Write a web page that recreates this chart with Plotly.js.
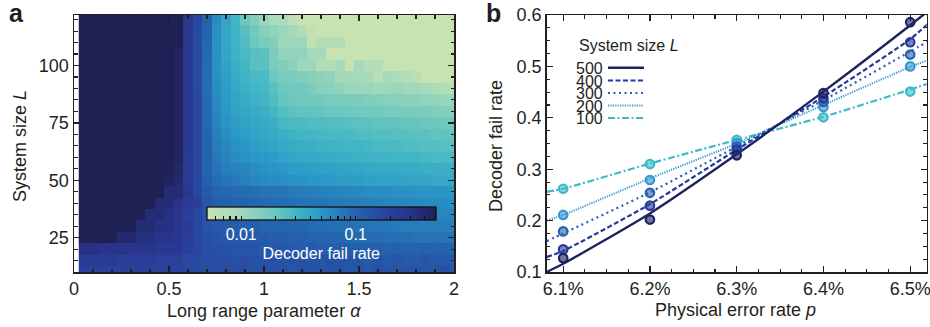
<!DOCTYPE html>
<html><head><meta charset="utf-8">
<script src="https://cdn.plot.ly/plotly-3.0.1.min.js"></script>
<style>html,body{margin:0;padding:0;background:#fff}#chart{width:930px;height:327px}</style>
</head><body><div id="chart"></div>
<script>
// ---------- panel a: heatmap ----------
const alphaValues = [0.05,0.1,0.15,0.2,0.25,0.3,0.35,0.4,0.45,0.5,0.55,0.6,0.65,0.7,0.75,0.8,0.85,0.9,0.95,1.0,
  1.05,1.1,1.15,1.2,1.25,1.3,1.35,1.4,1.45,1.5,1.55,1.6,1.65,1.7,1.75,1.8,1.85,1.9,1.95,2.0];
const systemSizes = [10,15,20,25,30,35,40,45,50,55,60,65,70,75,80,85,90,95,100,105,110,115,120];
// decoder fail rate, one row per system size (ascending), one column per alpha
const failRate = [
 [0.19,0.19,0.19,0.19,0.19,0.19,0.19,0.19,0.19,0.18,0.18,0.17,0.16,0.16,0.15,0.15,0.15,0.15,0.14,0.14,0.14,0.14,0.13,0.14,0.14,0.13,0.14,0.14,0.13,0.14,0.13,0.14,0.13,0.13,0.14,0.13,0.13,0.13,0.14,0.13],
 [0.23,0.23,0.23,0.23,0.21,0.21,0.21,0.21,0.19,0.19,0.19,0.16,0.16,0.15,0.15,0.15,0.14,0.15,0.14,0.14,0.14,0.13,0.14,0.14,0.13,0.13,0.14,0.13,0.13,0.13,0.12,0.13,0.12,0.13,0.12,0.12,0.13,0.12,0.12,0.12],
 [0.32,0.32,0.3,0.3,0.3,0.27,0.27,0.27,0.25,0.25,0.25,0.2,0.17,0.15,0.14,0.14,0.13,0.13,0.13,0.12,0.12,0.12,0.12,0.11,0.12,0.11,0.11,0.11,0.11,0.11,0.105,0.11,0.1,0.105,0.1,0.1,0.105,0.1,0.1,0.1],
 [0.5,0.5,0.5,0.5,0.38,0.38,0.33,0.33,0.28,0.28,0.25,0.2,0.17,0.14,0.13,0.125,0.12,0.12,0.12,0.115,0.11,0.11,0.105,0.105,0.1,0.1,0.095,0.095,0.09,0.09,0.09,0.088,0.085,0.085,0.085,0.082,0.08,0.082,0.08,0.08],
 [0.5,0.5,0.5,0.5,0.5,0.5,0.36,0.36,0.32,0.32,0.27,0.22,0.17,0.13,0.12,0.115,0.11,0.105,0.105,0.1,0.1,0.098,0.095,0.095,0.09,0.088,0.085,0.085,0.082,0.08,0.078,0.078,0.075,0.074,0.072,0.072,0.07,0.072,0.07,0.07],
 [0.5,0.5,0.5,0.5,0.5,0.5,0.5,0.36,0.36,0.32,0.26,0.2,0.17,0.13,0.115,0.11,0.105,0.1,0.098,0.095,0.092,0.09,0.088,0.085,0.082,0.08,0.078,0.076,0.075,0.072,0.07,0.07,0.068,0.068,0.066,0.065,0.065,0.064,0.064,0.063],
 [0.5,0.5,0.5,0.5,0.5,0.5,0.5,0.5,0.36,0.36,0.3,0.23,0.19,0.13,0.11,0.105,0.1,0.098,0.095,0.092,0.09,0.088,0.085,0.082,0.08,0.078,0.075,0.074,0.072,0.07,0.068,0.066,0.065,0.063,0.062,0.06,0.06,0.058,0.058,0.057],
 [0.5,0.5,0.5,0.5,0.5,0.5,0.5,0.5,0.5,0.36,0.36,0.26,0.17,0.12,0.1,0.095,0.09,0.088,0.085,0.082,0.08,0.078,0.074,0.072,0.07,0.067,0.065,0.064,0.062,0.06,0.058,0.056,0.056,0.055,0.054,0.053,0.052,0.052,0.051,0.05],
 [0.5,0.5,0.5,0.5,0.5,0.5,0.5,0.5,0.5,0.45,0.38,0.24,0.17,0.105,0.088,0.08,0.074,0.068,0.064,0.061,0.058,0.056,0.054,0.052,0.05,0.05,0.048,0.047,0.046,0.045,0.044,0.043,0.043,0.042,0.041,0.041,0.04,0.039,0.038,0.038],
 [0.5,0.5,0.5,0.5,0.5,0.5,0.5,0.5,0.5,0.5,0.42,0.24,0.17,0.1,0.08,0.072,0.066,0.062,0.058,0.055,0.052,0.05,0.047,0.046,0.045,0.044,0.043,0.042,0.041,0.04,0.039,0.038,0.038,0.037,0.036,0.036,0.035,0.035,0.034,0.034],
 [0.5,0.5,0.5,0.5,0.5,0.5,0.5,0.5,0.5,0.5,0.45,0.24,0.17,0.1,0.075,0.065,0.058,0.054,0.05,0.048,0.046,0.043,0.04,0.039,0.038,0.037,0.036,0.035,0.034,0.033,0.032,0.032,0.031,0.03,0.03,0.03,0.029,0.028,0.028,0.028],
 [0.5,0.5,0.5,0.5,0.5,0.5,0.5,0.5,0.5,0.5,0.45,0.25,0.17,0.1,0.072,0.062,0.055,0.05,0.046,0.044,0.041,0.038,0.036,0.035,0.034,0.033,0.032,0.031,0.03,0.03,0.029,0.028,0.028,0.027,0.026,0.026,0.025,0.025,0.024,0.024],
 [0.5,0.5,0.5,0.5,0.5,0.5,0.5,0.5,0.5,0.5,0.45,0.25,0.17,0.1,0.07,0.058,0.05,0.045,0.042,0.04,0.037,0.034,0.032,0.03,0.03,0.029,0.028,0.028,0.027,0.026,0.026,0.025,0.025,0.024,0.024,0.023,0.023,0.022,0.022,0.021],
 [0.5,0.5,0.5,0.5,0.5,0.5,0.5,0.5,0.5,0.5,0.45,0.25,0.17,0.09,0.063,0.052,0.046,0.042,0.039,0.037,0.034,0.029,0.027,0.027,0.026,0.026,0.025,0.025,0.024,0.023,0.023,0.022,0.022,0.022,0.021,0.021,0.02,0.02,0.019,0.019],
 [0.5,0.5,0.5,0.5,0.5,0.5,0.5,0.5,0.5,0.5,0.45,0.25,0.17,0.092,0.062,0.05,0.043,0.039,0.036,0.034,0.03,0.025,0.023,0.022,0.022,0.021,0.02,0.02,0.019,0.019,0.018,0.018,0.017,0.017,0.017,0.016,0.016,0.015,0.015,0.014],
 [0.5,0.5,0.5,0.5,0.5,0.5,0.5,0.5,0.5,0.5,0.45,0.25,0.17,0.09,0.06,0.048,0.041,0.036,0.033,0.031,0.026,0.021,0.02,0.019,0.018,0.018,0.017,0.017,0.016,0.016,0.015,0.015,0.014,0.014,0.013,0.013,0.012,0.012,0.011,0.011],
 [0.5,0.5,0.5,0.5,0.5,0.5,0.5,0.5,0.5,0.5,0.45,0.25,0.16,0.088,0.058,0.046,0.039,0.034,0.031,0.029,0.024,0.02,0.019,0.018,0.016,0.014,0.013,0.012,0.011,0.0105,0.011,0.01,0.0105,0.011,0.01,0.0095,0.009,0.008,0.0075,0.007],
 [0.5,0.5,0.5,0.5,0.5,0.5,0.5,0.5,0.5,0.5,0.45,0.25,0.16,0.09,0.057,0.045,0.037,0.032,0.028,0.027,0.02,0.017,0.017,0.015,0.014,0.013,0.012,0.0095,0.0095,0.009,0.0085,0.0065,0.009,0.008,0.0075,0.0065,0.005,0.005,0.005,0.005],
 [0.5,0.5,0.5,0.5,0.5,0.5,0.5,0.5,0.5,0.5,0.45,0.25,0.16,0.09,0.055,0.042,0.035,0.03,0.024,0.024,0.017,0.015,0.013,0.01,0.0105,0.0075,0.0075,0.009,0.005,0.009,0.007,0.007,0.005,0.005,0.005,0.005,0.005,0.005,0.005,0.005],
 [0.5,0.5,0.5,0.5,0.5,0.5,0.5,0.5,0.5,0.5,0.45,0.25,0.16,0.092,0.055,0.04,0.033,0.028,0.024,0.023,0.016,0.012,0.012,0.012,0.009,0.009,0.005,0.005,0.005,0.005,0.005,0.005,0.005,0.005,0.005,0.005,0.005,0.005,0.005,0.005],
 [0.5,0.5,0.5,0.5,0.5,0.5,0.5,0.5,0.5,0.5,0.5,0.26,0.16,0.095,0.055,0.04,0.032,0.026,0.02,0.017,0.015,0.0105,0.0105,0.0105,0.0055,0.0075,0.0075,0.0075,0.005,0.005,0.005,0.005,0.005,0.005,0.005,0.005,0.005,0.005,0.005,0.005],
 [0.5,0.5,0.5,0.5,0.5,0.5,0.5,0.5,0.5,0.5,0.5,0.26,0.16,0.1,0.055,0.04,0.031,0.024,0.018,0.014,0.012,0.011,0.0095,0.0075,0.0055,0.005,0.005,0.005,0.005,0.005,0.005,0.005,0.005,0.005,0.005,0.005,0.005,0.005,0.005,0.005],
 [0.5,0.5,0.5,0.5,0.5,0.5,0.5,0.5,0.5,0.5,0.5,0.26,0.17,0.1,0.06,0.041,0.03,0.02,0.015,0.011,0.0085,0.0078,0.006,0.005,0.005,0.005,0.005,0.005,0.005,0.005,0.005,0.005,0.005,0.005,0.005,0.005,0.005,0.005,0.005,0.005]
];
const colorTicks = [0.006,0.007,0.008,0.009,0.01,0.02,0.03,0.04,0.05,0.06,0.07,0.08,0.09,0.1,0.2,0.3,0.4];
const colorTickLabels = ['','','','','0.01','','','','','','','','','0.1','','',''];
const rateMin = 0.005, rateMax = 0.5;

// ---------- panel b: fail rate vs physical error rate ----------
const errorRate = [6.1, 6.2, 6.3, 6.4, 6.5];
const fail500 = [0.127, 0.202, 0.327, 0.448, 0.586];
const fail400 = [0.144, 0.229, 0.338, 0.438, 0.547];
const fail300 = [0.179, 0.254, 0.344, 0.431, 0.523];
const fail200 = [0.211, 0.279, 0.351, 0.421, 0.500];
const fail100 = [0.262, 0.310, 0.357, 0.401, 0.451];
const fitErrorRate = [6.081, 6.1, 6.2, 6.3, 6.4, 6.5, 6.52];
const fit500 = [0.100, 0.116, 0.214, 0.329, 0.451, 0.580, 0.607];
const fit400 = [0.129, 0.141, 0.232, 0.338, 0.441, 0.553, 0.582];
const fit300 = [0.160, 0.175, 0.255, 0.344, 0.434, 0.529, 0.548];
const fit200 = [0.200, 0.211, 0.282, 0.350, 0.425, 0.499, 0.512];
const fit100 = [0.256, 0.262, 0.311, 0.357, 0.402, 0.455, 0.466];
const sizeLabels = ['500','400','300','200','100'];
const xTickVals = [6.1, 6.2, 6.3, 6.4, 6.5];
const xTickText = ['6.1%','6.2%','6.3%','6.4%','6.5%'];
const yTickVals = [0.1, 0.2, 0.3, 0.4, 0.5, 0.6];

const colors = ['#1d2461','#27399a','#2a62b3','#3497d0','#3cbac8'];
const fills  = ['rgba(29,36,97,0.62)','rgba(39,57,154,0.6)','rgba(42,98,179,0.6)','rgba(52,151,208,0.6)','rgba(60,186,200,0.6)'];
const dashes = ['solid','5px,2.5px','2px,3.5px','1.2px,1.2px','7px,2.5px,2px,2.5px'];
const widths = [2.4, 2.2, 2.2, 2.0, 2.2];
const failSeries = [fail500, fail400, fail300, fail200, fail100];
const fitSeries = [fit500, fit400, fit300, fit200, fit100];

const FONT = 'Liberation Sans, Arial, Helvetica, sans-serif';
const INK = '#231f20';

const colorscale = [[0,'#c8e3b2'],[0.15,'#a0d8bb'],[0.3,'#6cc7be'],[0.39,'#42b6c5'],[0.5,'#2a98c6'],
  [0.65,'#2463ae'],[0.8,'#2a3f9b'],[0.89,'#283389'],[1,'#1f2053']];

const traces = [];
traces.push({
  type:'heatmap', x: alphaValues, y: systemSizes,
  z: failRate.map(r => r.map(v => Math.log10(v))),
  zmin: Math.log10(rateMin), zmax: Math.log10(rateMax),
  colorscale: colorscale, xaxis:'x', yaxis:'y', hoverinfo:'skip',
  colorbar: {
    orientation:'h', x: 0.3454, xanchor:'center', y: 0.367, yanchor:'top',
    len: 229, lenmode:'pixels', thickness: 13, thicknessmode:'pixels',
    xpad: 0, ypad: 0, outlinewidth: 1.3, outlinecolor:'#111', borderwidth:0,
    tickmode:'array', tickvals: colorTicks.map(v => Math.log10(v)), ticktext: colorTickLabels,
    ticks:'inside', ticklen: 4, tickwidth: 1.2, tickcolor:'#111',
    tickfont:{family:FONT, size:16, color:'#ffffff'},
    title:{text:'Decoder fail rate', side:'bottom', font:{family:FONT, size:16, color:'#ffffff'}}
  }
});
for (let i = 4; i >= 0; i--) {
  traces.push({type:'scatter', mode:'lines', x: fitErrorRate, y: fitSeries[i], xaxis:'x2', yaxis:'y2',
    line:{color: colors[i], width: widths[i], dash: dashes[i], shape:'spline', smoothing:0.6}, hoverinfo:'skip'});
}
for (let i = 4; i >= 0; i--) {
  traces.push({type:'scatter', mode:'markers', x: errorRate, y: failSeries[i], xaxis:'x2', yaxis:'y2',
    marker:{symbol:'circle', size: 8.5, color: fills[i], line:{color: colors[i], width: 2.2}}, hoverinfo:'skip'});
}

function axisStyle(extra) {
  return Object.assign({
    ticks:'inside', ticklen: 6, tickwidth: 1.3, tickcolor: INK,
    showline:true, linecolor: INK, linewidth: 1.5, mirror:'allticks',
    showgrid:false, zeroline:false, ticklabeloverflow:'allow',
    tickfont:{family:FONT, size:18, color:INK}
  }, extra);
}
const yDom = [1 - 272/327, 1 - 15/327];

const annotations = [
  {text:'Long range parameter <i>α</i>', x: 264/930, y: 1 - 311/327},
  {text:'System size <i>L</i>', x: 20/930, y: 1 - 146/327, textangle:-90},
  {text:'Decoder fail rate', x: 496/930, y: 1 - 146/327, textangle:-90},
  {text:'Physical error rate <i>p</i>', x: 735/930, y: 1 - 310/327},
  {text:'<b>a</b>', x: 16.5/930, y: 1 - 13/327, size: 25},
  {text:'<b>b</b>', x: 493/930, y: 1 - 13/327, size: 25},
  {text:'System size <i>L</i>', x: 577/930, y: 1 - 46/327, xanchor:'left', size: 16}
].map(a => ({text:a.text, x:a.x, y:a.y, xref:'paper', yref:'paper', showarrow:false,
  xanchor: a.xanchor || 'center', yanchor:'middle', textangle: a.textangle || 0,
  font:{family:FONT, size: a.size || 18, color: INK}}));

const legendY = [67.7, 80.5, 93, 105.5, 118];
const shapes = [];
sizeLabels.forEach((lab, i) => {
  annotations.push({text: lab, x: 604/930, y: 1 - legendY[i]/327, xref:'paper', yref:'paper', showarrow:false,
    xanchor:'right', yanchor:'middle', height: 12, borderpad: 0, valign:'middle',
    font:{family:FONT, size:16, color:INK}});
  shapes.push({type:'line', xref:'paper', yref:'paper', x0: 608/930, x1: 644/930,
    y0: 1 - legendY[i]/327, y1: 1 - legendY[i]/327,
    line:{color: colors[i], width: widths[i], dash: dashes[i]}});
});

const layout = {
  width: 930, height: 327, margin:{l:0, r:0, t:0, b:0},
  paper_bgcolor:'#ffffff', plot_bgcolor:'#ffffff', showlegend:false,
  font:{family:FONT, size:18, color:INK},
  xaxis: axisStyle({domain:[74/930, 454/930], range:[0,2], anchor:'y',
    tickvals:[0,0.5,1,1.5,2], ticktext:['0','0.5','1','1.5','2'],
    minor:{tick0:0, dtick:0.1, ticks:'inside', ticklen:3.5, tickwidth:1.1, tickcolor:INK}}),
  yaxis: axisStyle({domain: yDom, range:[10,122], anchor:'x',
    tickvals:[25,50,75,100], ticktext:['25','50','75','100'],
    minor:{tick0:0, dtick:5, ticks:'inside', ticklen:3.5, tickwidth:1.1, tickcolor:INK}}),
  xaxis2: axisStyle({domain:[546.7/930, 926.7/930], range:[6.081, 6.519], anchor:'y2',
    tickvals: xTickVals, ticktext: xTickText,
    minor:{tick0:6.1, dtick:0.025, ticks:'inside', ticklen:3.5, tickwidth:1.1, tickcolor:INK}}),
  yaxis2: axisStyle({domain: yDom, range:[0.1, 0.6], anchor:'x2',
    tickvals: yTickVals, ticktext: yTickVals.map(v => v.toFixed(1)),
    minor:{tick0:0.1, dtick:0.025, ticks:'inside', ticklen:3.5, tickwidth:1.1, tickcolor:INK}}),
  annotations: annotations, shapes: shapes
};

Plotly.newPlot('chart', traces, layout, {displayModeBar:false, staticPlot:true});
</script>
</body></html>
